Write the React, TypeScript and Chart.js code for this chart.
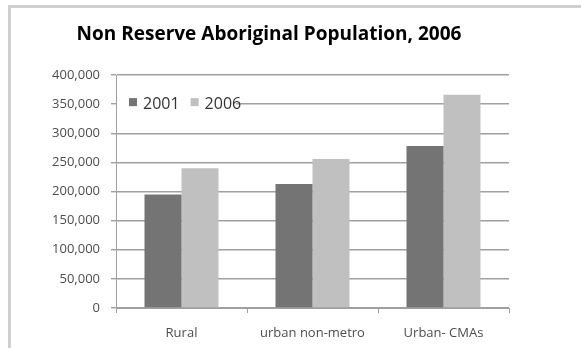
import React, { useEffect, useRef } from "react";
import { Chart, registerables } from "chart.js";

Chart.register(...registerables);

const categories = ["Rural", "urban non-metro", "Urban- CMAs"];
const seriesNames = ["2001", "2006"];
const values2001 = [195000, 213000, 278000];
const values2006 = [240000, 256000, 366000];
const seriesColors = ["#747474", "#c0c0c0"];
const titleText = "Non Reserve Aboriginal Population, 2006";

const FONT = "'Open Sans', 'DejaVu Sans', sans-serif";

const overlayPlugin = {
  id: "overlay",
  afterDraw(chart: any) {
    const ctx = chart.ctx;
    ctx.save();
    // title
    ctx.fillStyle = "#000";
    ctx.font = `bold 19px ${FONT}`;
    ctx.textAlign = "center";
    ctx.textBaseline = "middle";
    ctx.fillText(titleText, 269, 35);
    // legend inside plot
    const y = chart.scales.y.getPixelForValue(350000);
    ctx.font = `16px ${FONT}`;
    ctx.textAlign = "left";
    let x = chart.chartArea.left + 4;
    const items = chart.data.datasets;
    let total = 0;
    items.forEach((d: any) => {
      total += 8 + 6 + ctx.measureText(d.label).width + 8;
    });
    ctx.fillStyle = "#fff";
    ctx.fillRect(chart.chartArea.left + 1, y - 10, total + 2, 20);
    items.forEach((d: any) => {
      ctx.fillStyle = d.backgroundColor;
      ctx.fillRect(x + 9, y - 6, 8, 8);
      ctx.fillStyle = "#333";
      ctx.fillText(d.label, x + 23, y);
      x += 23 + ctx.measureText(d.label).width + 2;
    });
    ctx.restore();
  },
};

export default function App() {
  const ref = useRef<HTMLCanvasElement>(null);
  useEffect(() => {
    const chart = new Chart(ref.current!, {
      type: "bar",
      data: {
        labels: categories,
        datasets: [
          { label: seriesNames[0], data: values2001, backgroundColor: seriesColors[0] },
          { label: seriesNames[1], data: values2006, backgroundColor: seriesColors[1] },
        ],
      },
      options: {
        animation: false,
        responsive: false,
        devicePixelRatio: 1,
        layout: { padding: { left: 0, right: 72, top: 75, bottom: 0 } },
        plugins: { legend: { display: false }, title: { display: false }, tooltip: { enabled: false } },
        datasets: { bar: { categoryPercentage: 0.565, barPercentage: 1 } } as any,
        scales: {
          x: {
            grid: { drawOnChartArea: false, drawTicks: true, tickLength: 5, color: "#a0a0a0", offset: true },
            border: { color: "#a0a0a0" },
            ticks: { color: "#4d4d4d", font: { family: FONT, size: 13 }, padding: 12, maxRotation: 0 },
            afterFit: (s: any) => { s.height = 40; },
          },
          y: {
            min: 0,
            max: 400000,
            ticks: {
              stepSize: 50000,
              color: "#4d4d4d",
              font: { family: FONT, size: 13 },
              padding: 11,
              callback: (v: any) => Number(v).toLocaleString("en-US"),
            },
            grid: { color: "#a0a0a0", lineWidth: 1.4, tickLength: 5 },
            border: { color: "#a0a0a0" },
            afterFit: (s: any) => { s.width = 116; },
          },
        },
      },
      plugins: [overlayPlugin],
    });
    return () => chart.destroy();
  }, []);
  return (
    <div style={{ position: "fixed", left: 0, top: 0, width: 581, height: 348, background: "#fff", overflow: "hidden" }}>
      <div style={{ position: "absolute", left: 8, top: 5, width: 700, height: 500, border: "3px solid #cfcfcf", boxSizing: "border-box" }} />
      <canvas ref={ref} width={581} height={348} style={{ position: "absolute", left: 0, top: 0 }} />
    </div>
  );
}
